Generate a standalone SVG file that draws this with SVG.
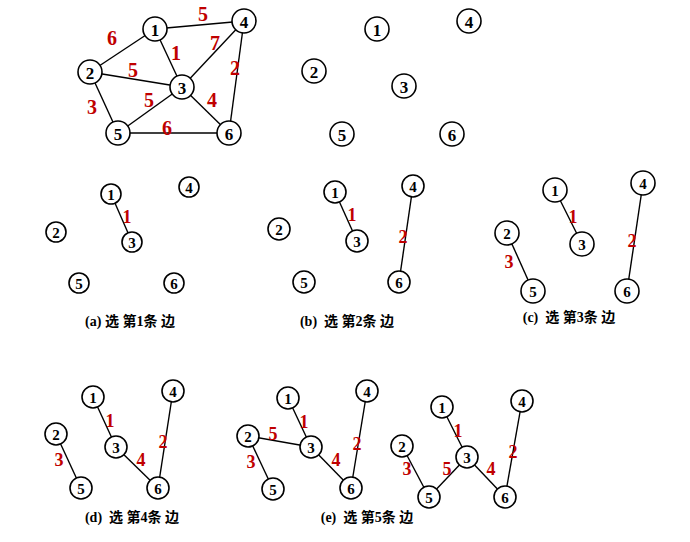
<svg xmlns="http://www.w3.org/2000/svg" width="690" height="542" viewBox="0 0 690 542">
<style>
.e line{stroke:#000;stroke-width:1.4}
circle{fill:#fff;stroke:#000;stroke-width:1.6}
.n text{font-family:"Liberation Serif","Times New Roman",serif;font-weight:bold;font-size:15px;text-anchor:middle;dominant-baseline:central;fill:#000}
.big .n text{font-size:17px}
.w{font-family:"Liberation Serif","Times New Roman",serif;font-weight:bold;font-size:18px;text-anchor:middle;dominant-baseline:central;fill:#c00000}
.big .w{font-size:20px}
.cap{font-family:"Liberation Serif","Noto Sans CJK SC",serif;font-weight:bold;font-size:14px;text-anchor:middle;dominant-baseline:central;fill:#000}
</style>
<rect width="690" height="542" fill="#fff"/>

<!-- Main graph -->
<g id="graphMain" class="big">
<g id="edgesMain" class="e">
<line x1="155" y1="29" x2="90" y2="72"/>
<line x1="155" y1="29" x2="244" y2="21"/>
<line x1="155" y1="29" x2="182" y2="87"/>
<line x1="90" y1="72" x2="182" y2="87"/>
<line x1="90" y1="72" x2="118" y2="133"/>
<line x1="182" y1="87" x2="244" y2="21"/>
<line x1="182" y1="87" x2="118" y2="133"/>
<line x1="182" y1="87" x2="229" y2="133"/>
<line x1="244" y1="21" x2="229" y2="133"/>
<line x1="118" y1="133" x2="229" y2="133"/>
</g>
<text class="w" x="203" y="14">5</text>
<text class="w" x="112" y="38">6</text>
<text class="w" x="176" y="53">1</text>
<text class="w" x="215" y="43">7</text>
<text class="w" x="133" y="70">5</text>
<text class="w" x="235" y="68">2</text>
<text class="w" x="92" y="107">3</text>
<text class="w" x="149" y="100">5</text>
<text class="w" x="212" y="100">4</text>
<text class="w" x="167" y="128">6</text>
<g id="m1" class="n"><circle cx="155" cy="29" r="12"/><text x="155" y="30">1</text></g>
<g id="m2" class="n"><circle cx="90" cy="72" r="12"/><text x="90" y="73">2</text></g>
<g id="m3" class="n"><circle cx="182" cy="87" r="12"/><text x="182" y="88">3</text></g>
<g id="m4" class="n"><circle cx="244" cy="21" r="12"/><text x="244" y="22">4</text></g>
<g id="m5" class="n"><circle cx="118" cy="133" r="12"/><text x="118" y="134">5</text></g>
<g id="m6" class="n"><circle cx="229" cy="133" r="12"/><text x="229" y="134">6</text></g>
</g>

<!-- Isolated nodes -->
<g id="graphIso" class="big">
<g id="i1" class="n"><circle cx="377" cy="29" r="12"/><text x="377" y="30">1</text></g>
<g id="i2" class="n"><circle cx="314" cy="71" r="12"/><text x="314" y="72">2</text></g>
<g id="i3" class="n"><circle cx="404" cy="86" r="12"/><text x="404" y="87">3</text></g>
<g id="i4" class="n"><circle cx="469" cy="21" r="12"/><text x="469" y="22">4</text></g>
<g id="i5" class="n"><circle cx="342" cy="134" r="12"/><text x="342" y="135">5</text></g>
<g id="i6" class="n"><circle cx="452" cy="134" r="12"/><text x="452" y="135">6</text></g>
</g>

<!-- (a) -->
<g id="graphA">
<g id="edgesA" class="e">
<line x1="111" y1="194" x2="132" y2="242"/>
</g>
<text class="w" x="127" y="217">1</text>
<g id="a1" class="n"><circle cx="111" cy="194" r="10"/><text x="111" y="195">1</text></g>
<g id="a2" class="n"><circle cx="56" cy="232" r="10"/><text x="56" y="233">2</text></g>
<g id="a3" class="n"><circle cx="132" cy="242" r="10"/><text x="132" y="243">3</text></g>
<g id="a4" class="n"><circle cx="189" cy="187" r="10"/><text x="189" y="188">4</text></g>
<g id="a5" class="n"><circle cx="79" cy="283" r="10"/><text x="79" y="284">5</text></g>
<g id="a6" class="n"><circle cx="174" cy="283" r="10"/><text x="174" y="284">6</text></g>
<text class="cap" x="130" y="321" xml:space="preserve">(a) 选 第1条 边</text>
</g>

<!-- (b) -->
<g id="graphB">
<g id="edgesB" class="e">
<line x1="335" y1="192" x2="357" y2="241"/>
<line x1="413" y1="186" x2="399" y2="282"/>
</g>
<text class="w" x="352" y="215">1</text>
<text class="w" x="403" y="237">2</text>
<g id="b1" class="n"><circle cx="335" cy="192" r="11"/><text x="335" y="193">1</text></g>
<g id="b2" class="n"><circle cx="279" cy="229" r="11"/><text x="279" y="230">2</text></g>
<g id="b3" class="n"><circle cx="357" cy="241" r="11"/><text x="357" y="242">3</text></g>
<g id="b4" class="n"><circle cx="413" cy="186" r="11"/><text x="413" y="187">4</text></g>
<g id="b5" class="n"><circle cx="304" cy="282" r="11"/><text x="304" y="283">5</text></g>
<g id="b6" class="n"><circle cx="399" cy="282" r="11"/><text x="399" y="283">6</text></g>
<text class="cap" x="347" y="321" xml:space="preserve">(b)  选 第2条 边</text>
</g>

<!-- (c) -->
<g id="graphC">
<g id="edgesC" class="e">
<line x1="555" y1="190" x2="582" y2="244"/>
<line x1="643" y1="183" x2="627" y2="291"/>
<line x1="507" y1="233" x2="533" y2="291"/>
</g>
<text class="w" x="573" y="217">1</text>
<text class="w" x="632" y="241">2</text>
<text class="w" x="509" y="262">3</text>
<g id="c1" class="n"><circle cx="555" cy="190" r="12"/><text x="555" y="191">1</text></g>
<g id="c2" class="n"><circle cx="507" cy="233" r="12"/><text x="507" y="234">2</text></g>
<g id="c3" class="n"><circle cx="582" cy="244" r="12"/><text x="582" y="245">3</text></g>
<g id="c4" class="n"><circle cx="643" cy="183" r="12"/><text x="643" y="184">4</text></g>
<g id="c5" class="n"><circle cx="533" cy="291" r="12"/><text x="533" y="292">5</text></g>
<g id="c6" class="n"><circle cx="627" cy="291" r="12"/><text x="627" y="292">6</text></g>
<text class="cap" x="569" y="317" xml:space="preserve">(c)  选 第3条 边</text>
</g>

<!-- (d) -->
<g id="graphD">
<g id="edgesD" class="e">
<line x1="93" y1="397" x2="116" y2="447"/>
<line x1="173" y1="391" x2="158" y2="488"/>
<line x1="56" y1="434" x2="81" y2="488"/>
<line x1="116" y1="447" x2="158" y2="488"/>
</g>
<text class="w" x="110" y="421">1</text>
<text class="w" x="163" y="442">2</text>
<text class="w" x="59" y="460">3</text>
<text class="w" x="141" y="460">4</text>
<g id="d1" class="n"><circle cx="93" cy="397" r="11"/><text x="93" y="398">1</text></g>
<g id="d2" class="n"><circle cx="56" cy="434" r="11"/><text x="56" y="435">2</text></g>
<g id="d3" class="n"><circle cx="116" cy="447" r="11"/><text x="116" y="448">3</text></g>
<g id="d4" class="n"><circle cx="173" cy="391" r="11"/><text x="173" y="392">4</text></g>
<g id="d5" class="n"><circle cx="81" cy="488" r="11"/><text x="81" y="489">5</text></g>
<g id="d6" class="n"><circle cx="158" cy="488" r="11"/><text x="158" y="489">6</text></g>
<text class="cap" x="132" y="517" xml:space="preserve">(d)  选 第4条 边</text>
</g>

<!-- (e) left -->
<g id="graphE1">
<g id="edgesE1" class="e">
<line x1="288" y1="398" x2="311" y2="447"/>
<line x1="367" y1="391" x2="351" y2="488"/>
<line x1="248" y1="436" x2="273" y2="489"/>
<line x1="311" y1="447" x2="351" y2="488"/>
<line x1="248" y1="436" x2="311" y2="447"/>
</g>
<text class="w" x="304" y="422">1</text>
<text class="w" x="273" y="434">5</text>
<text class="w" x="357" y="444">2</text>
<text class="w" x="251" y="462">3</text>
<text class="w" x="336" y="460">4</text>
<g id="e1" class="n"><circle cx="288" cy="398" r="11"/><text x="288" y="399">1</text></g>
<g id="e2" class="n"><circle cx="248" cy="436" r="11"/><text x="248" y="437">2</text></g>
<g id="e3" class="n"><circle cx="311" cy="447" r="11"/><text x="311" y="448">3</text></g>
<g id="e4" class="n"><circle cx="367" cy="391" r="11"/><text x="367" y="392">4</text></g>
<g id="e5" class="n"><circle cx="273" cy="489" r="11"/><text x="273" y="490">5</text></g>
<g id="e6" class="n"><circle cx="351" cy="488" r="11"/><text x="351" y="489">6</text></g>
<text class="cap" x="367" y="517" xml:space="preserve">(e)  选 第5条 边</text>
</g>

<!-- (e) right -->
<g id="graphE2">
<g id="edgesE2" class="e">
<line x1="442" y1="407" x2="467" y2="457"/>
<line x1="522" y1="401" x2="505" y2="497"/>
<line x1="402" y1="446" x2="429" y2="497"/>
<line x1="467" y1="457" x2="505" y2="497"/>
<line x1="467" y1="457" x2="429" y2="497"/>
</g>
<text class="w" x="458" y="431">1</text>
<text class="w" x="513" y="452">2</text>
<text class="w" x="407" y="469">3</text>
<text class="w" x="447" y="469">5</text>
<text class="w" x="491" y="469">4</text>
<g id="f1" class="n"><circle cx="442" cy="407" r="11"/><text x="442" y="408">1</text></g>
<g id="f2" class="n"><circle cx="402" cy="446" r="11"/><text x="402" y="447">2</text></g>
<g id="f3" class="n"><circle cx="467" cy="457" r="11"/><text x="467" y="458">3</text></g>
<g id="f4" class="n"><circle cx="522" cy="401" r="11"/><text x="522" y="402">4</text></g>
<g id="f5" class="n"><circle cx="429" cy="497" r="11"/><text x="429" y="498">5</text></g>
<g id="f6" class="n"><circle cx="505" cy="497" r="11"/><text x="505" y="498">6</text></g>
</g>
</svg>
